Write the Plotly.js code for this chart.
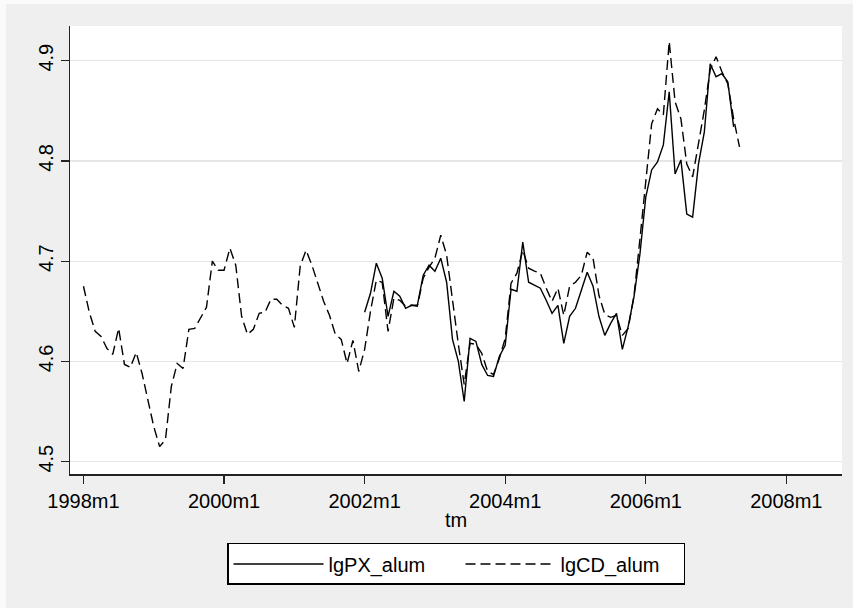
<!DOCTYPE html>
<html><head><meta charset="utf-8">
<script src="https://cdn.plot.ly/plotly-3.0.1.min.js"></script>
<style>
html,body{margin:0;padding:0;background:#fafafa;width:853px;height:608px;overflow:hidden}
#chart{position:absolute;left:6px;top:4px;width:847px;height:604px}
</style>
</head><body><div id="chart"></div>
<script>
// months counted from 1998m1 (index 0)
const cdStartMonth = 0;
const pxStartMonth = 48;   // 2002m1

const lgCD_alum = [
  4.675, 4.649, 4.630, 4.625, 4.613, 4.607, 4.633, 4.597, 4.594, 4.609, 4.588, 4.562,
  4.535, 4.515, 4.522, 4.575, 4.598, 4.593, 4.632, 4.633, 4.643, 4.654, 4.700, 4.691,
  4.691, 4.713, 4.696, 4.645, 4.627, 4.632, 4.648, 4.649, 4.662, 4.662, 4.656, 4.653,
  4.634, 4.695, 4.711, 4.696, 4.678, 4.660, 4.646, 4.627, 4.622, 4.598, 4.621, 4.590,
  4.612, 4.650, 4.681, 4.679, 4.630, 4.663, 4.661, 4.655, 4.656, 4.655, 4.683, 4.694,
  4.703, 4.726, 4.706, 4.660, 4.617, 4.577, 4.618, 4.617, 4.608, 4.590, 4.587, 4.603,
  4.623, 4.678, 4.688, 4.711, 4.693, 4.690, 4.688, 4.673, 4.660, 4.673, 4.646, 4.675,
  4.679, 4.686, 4.709, 4.703, 4.666, 4.647, 4.644, 4.646, 4.626, 4.633, 4.666, 4.722,
  4.781, 4.837, 4.852, 4.846, 4.919, 4.859, 4.842, 4.797, 4.784, 4.816, 4.851, 4.891,
  4.904, 4.889, 4.877, 4.842, 4.814
];

const lgPX_alum = [
  4.649, 4.668, 4.698, 4.683, 4.645, 4.670, 4.665, 4.653, 4.656, 4.656, 4.686, 4.696,
  4.690, 4.703, 4.679, 4.622, 4.600, 4.560, 4.623, 4.620, 4.597, 4.586, 4.585, 4.605,
  4.616, 4.672, 4.670, 4.719, 4.679, 4.676, 4.673, 4.661, 4.648, 4.656, 4.618, 4.645,
  4.653, 4.671, 4.689, 4.675, 4.645, 4.626, 4.638, 4.648, 4.612, 4.635, 4.665, 4.707,
  4.764, 4.791, 4.799, 4.816, 4.869, 4.787, 4.801, 4.747, 4.744, 4.797, 4.829, 4.897,
  4.884, 4.887, 4.879, 4.834
];

const xTickMonths = [0, 24, 48, 72, 96, 120];
const xTickLabels = ['1998m1', '2000m1', '2002m1', '2004m1', '2006m1', '2008m1'];
const yTickValues = [4.5, 4.6, 4.7, 4.8, 4.9];
const seriesNames = ['lgPX_alum', 'lgCD_alum'];
const xTitle = 'tm';

const FONT = 'Liberation Sans, Arial, sans-serif';

const traces = [
  {
    x: lgPX_alum.map((_, i) => pxStartMonth + i),
    y: lgPX_alum,
    name: seriesNames[0],
    type: 'scatter', mode: 'lines',
    legendwidth: 127,
    line: {color: '#000000', width: 1.4}
  },
  {
    x: lgCD_alum.map((_, i) => cdStartMonth + i),
    y: lgCD_alum,
    name: seriesNames[1],
    type: 'scatter', mode: 'lines',
    legendwidth: 118,
    line: {color: '#000000', width: 1.4, dash: '10px,5px'}
  }
];

const layout = {
  width: 847, height: 604,
  margin: {l: 64, r: 11, t: 22, b: 134},
  paper_bgcolor: '#efefef',
  plot_bgcolor: '#ffffff',
  font: {family: FONT, size: 20, color: '#000000'},
  showlegend: true,
  legend: {
    orientation: 'h',
    x: 0.5, xanchor: 'center',
    y: -0.154, yanchor: 'top',
    bgcolor: '#ffffff', bordercolor: '#000000', borderwidth: 1.5,
    font: {family: FONT, size: 20, color: '#000000'},
    itemwidth: 90,
    entrywidthmode: 'pixels',
    traceorder: 'normal'
  },
  xaxis: {
    range: [-2.3, 129.5],
    tickvals: xTickMonths, ticktext: xTickLabels,
    ticks: 'outside', ticklen: 8, tickwidth: 1.3, tickcolor: '#222222',
    showline: true, linecolor: '#222222', linewidth: 1.5,
    showgrid: false, zeroline: false,
    tickfont: {family: FONT, size: 20, color: '#000000'},
    title: {text: xTitle, font: {family: FONT, size: 20, color: '#000000'}, standoff: 2}
  },
  yaxis: {
    range: [4.4877, 4.9346],
    tickvals: yTickValues, tickformat: '.1f',
    ticks: 'outside', ticklen: 8, tickwidth: 1.3, tickcolor: '#222222',
    tickangle: -90,
    showline: true, linecolor: '#222222', linewidth: 1.5,
    showgrid: true, gridcolor: '#e6e6e6', gridwidth: 1.3,
    zeroline: false,
    tickfont: {family: FONT, size: 20, color: '#000000'}
  }
};

Plotly.newPlot('chart', traces, layout, {displayModeBar: false, staticPlot: true});
</script>
</body></html>
